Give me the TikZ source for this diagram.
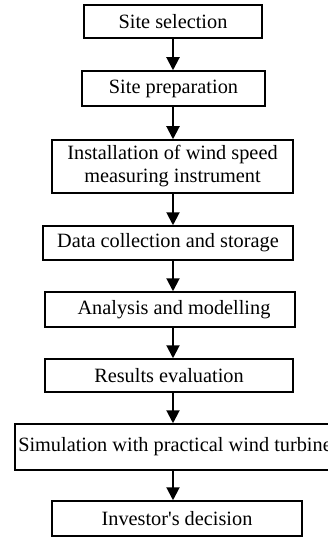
\documentclass[tikz,border=0pt]{standalone}
\usepackage{fontspec}
\setmainfont{Liberation Serif}[Ligatures=TeXOff]
\usetikzlibrary{arrows.meta}
\begin{document}
\begin{tikzpicture}[x=1pt,y=-1pt,
  stepbox/.style={draw,line width=1.5pt,inner sep=0pt,align=center,font=\fontsize{20.3}{23}\selectfont},
  flow/.style={line width=2pt,-{Triangle[length=13pt,width=13pt]}}]
\useasboundingbox (0,0) rectangle (327,537);
\node[stepbox,minimum width=178pt,minimum height=33pt] (b1) at (173,21.5) {Site selection};
\node[stepbox,minimum width=183pt,minimum height=35pt] (b2) at (173.5,88.5) {Site preparation};
\node[stepbox,minimum width=241pt,minimum height=53pt] (b3) at (172.5,166.5) {Installation of wind speed\\measuring instrument};
\node[stepbox,minimum width=250pt,minimum height=34pt] (b4) at (168,243) {Data collection and storage};
\node[stepbox,minimum width=250pt,minimum height=35pt] (b5) at (170,309.5) {\hspace*{8pt}Analysis and modelling};
\node[stepbox,minimum width=248pt,minimum height=33pt] (b6) at (169,375.5) {Results evaluation};
\node[stepbox,minimum width=320pt,minimum height=46pt] (b7) at (175,447) {\raisebox{6pt}{Simulation with practical wind turbine}};
\node[stepbox,minimum width=250pt,minimum height=35pt] (b8) at (177,518.5) {Investor's decision};
\coordinate (ax) at (173,0);
\foreach \a/\b in {b1/b2,b2/b3,b3/b4,b4/b5,b5/b6,b6/b7,b7/b8}
  \draw[flow] (\a.south -| ax) -- (\b.north -| ax);
\end{tikzpicture}
\end{document}
